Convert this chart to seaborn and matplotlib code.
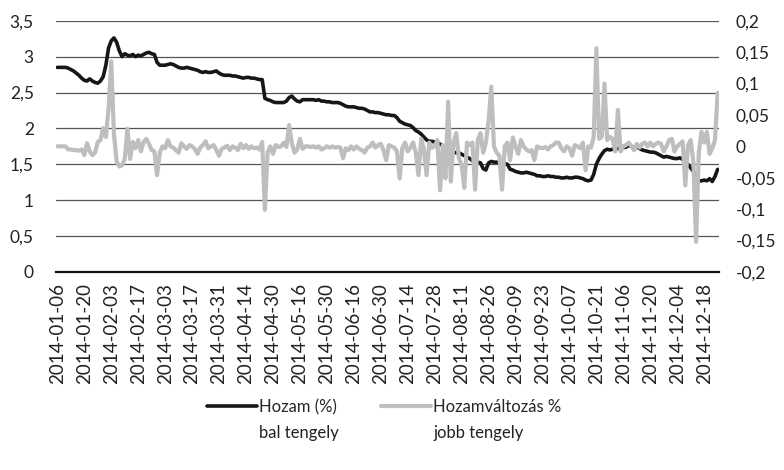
import numpy as np
import pandas as pd
import matplotlib
matplotlib.use("Agg")
import matplotlib.pyplot as plt
from matplotlib.lines import Line2D
import seaborn as sns

# napi hozam (%), bal tengely
hozam = [
    2.85, 2.85, 2.85, 2.85, 2.84, 2.82, 2.80, 2.77, 2.74, 2.70,
    2.67, 2.66, 2.69, 2.66, 2.64, 2.63, 2.66, 2.72, 2.88, 3.12,
    3.22, 3.26, 3.20, 3.08, 3.00, 3.04, 3.02, 3.01, 3.03, 3.00,
    3.02, 3.01, 3.03, 3.05, 3.06, 3.04, 3.03, 2.92, 2.88, 2.88,
    2.88, 2.89, 2.90, 2.89, 2.87, 2.85, 2.84, 2.84, 2.85, 2.84,
    2.83, 2.82, 2.81, 2.79, 2.78, 2.79, 2.78, 2.78, 2.79, 2.80,
    2.77, 2.75, 2.74, 2.74, 2.74, 2.73, 2.73, 2.72, 2.71, 2.70,
    2.71, 2.71, 2.70, 2.70, 2.69, 2.68, 2.68, 2.42, 2.40, 2.39,
    2.37, 2.36, 2.36, 2.36, 2.36, 2.38, 2.43, 2.45, 2.41, 2.38,
    2.37, 2.40, 2.40, 2.40, 2.40, 2.40, 2.39, 2.40, 2.38, 2.38,
    2.37, 2.37, 2.36, 2.36, 2.36, 2.35, 2.33, 2.31, 2.30, 2.30,
    2.30, 2.29, 2.28, 2.28, 2.27, 2.25, 2.23, 2.23, 2.22, 2.22,
    2.21, 2.20, 2.19, 2.19, 2.18, 2.18, 2.15, 2.10, 2.08, 2.06,
    2.05, 2.04, 2.01, 1.97, 1.95, 1.92, 1.88, 1.84, 1.82, 1.82,
    1.81, 1.80, 1.78, 1.76, 1.74, 1.72, 1.70, 1.67, 1.66, 1.66,
    1.64, 1.62, 1.60, 1.58, 1.55, 1.53, 1.53, 1.52, 1.44, 1.42,
    1.52, 1.54, 1.53, 1.53, 1.52, 1.52, 1.51, 1.50, 1.43, 1.42,
    1.40, 1.39, 1.38, 1.38, 1.39, 1.38, 1.37, 1.36, 1.34, 1.34,
    1.33, 1.33, 1.34, 1.33, 1.33, 1.32, 1.32, 1.31, 1.31, 1.32,
    1.31, 1.31, 1.32, 1.32, 1.31, 1.30, 1.28, 1.27, 1.28, 1.36,
    1.50, 1.58, 1.64, 1.69, 1.71, 1.70, 1.71, 1.71, 1.72, 1.72,
    1.73, 1.74, 1.76, 1.75, 1.73, 1.74, 1.72, 1.70, 1.69, 1.68,
    1.67, 1.67, 1.66, 1.64, 1.62, 1.60, 1.61, 1.60, 1.59, 1.58,
    1.58, 1.59, 1.57, 1.52, 1.50, 1.45, 1.40, 1.30, 1.27, 1.27,
    1.28, 1.27, 1.30, 1.26, 1.33, 1.43,
]

# hozamvaltozas, jobb tengely
valtozas = [
    0.000, 0.000, 0.000, 0.000, -0.005, -0.005, -0.006, -0.006, -0.007, -0.005,
    -0.014, 0.005, -0.008, -0.014, -0.010, 0.007, 0.010, 0.029, 0.015, 0.060,
    0.135, 0.020, -0.024, -0.032, -0.030, -0.020, 0.028, -0.020, 0.007, -0.003,
    0.010, -0.008, 0.007, 0.012, 0.004, -0.006, -0.008, -0.046, -0.010, 0.000,
    -0.003, 0.010, 0.000, -0.002, -0.006, -0.010, 0.005, 0.000, -0.004, 0.002,
    0.000, -0.004, -0.012, -0.002, 0.002, 0.008, -0.003, 0.000, 0.002, -0.006,
    -0.015, -0.004, -0.002, 0.001, -0.006, 0.000, -0.002, -0.006, 0.004, -0.003,
    0.002, -0.004, 0.000, -0.003, -0.002, -0.005, 0.007, -0.101, -0.010, 0.000,
    -0.012, 0.002, -0.001, 0.000, 0.006, -0.001, 0.034, 0.005, -0.010, -0.005,
    0.012, -0.004, 0.000, 0.000, -0.001, 0.000, -0.002, 0.000, -0.005, -0.003,
    0.000, -0.002, 0.000, -0.002, -0.001, -0.002, -0.019, -0.003, -0.006, 0.000,
    -0.005, 0.000, -0.004, -0.006, -0.010, -0.002, 0.000, 0.006, -0.002, 0.002,
    0.004, -0.006, -0.022, 0.002, 0.000, -0.002, -0.008, -0.051, -0.003, 0.006,
    -0.008, -0.002, 0.006, -0.010, -0.046, 0.012, -0.004, -0.046, 0.006, -0.002,
    0.000, 0.010, -0.070, 0.002, -0.051, 0.071, -0.056, 0.006, 0.021, -0.019,
    -0.030, -0.066, 0.006, 0.002, 0.006, -0.069, 0.010, 0.021, -0.010, 0.006,
    0.040, 0.095, 0.000, -0.010, -0.015, -0.069, 0.000, 0.006, -0.022, 0.014,
    0.000, -0.012, 0.010, 0.000, -0.005, -0.008, -0.006, -0.022, 0.000, -0.002,
    -0.003, -0.001, -0.005, 0.000, 0.002, 0.006, 0.006, -0.003, -0.008, 0.000,
    -0.003, -0.015, 0.002, 0.000, -0.003, 0.006, -0.038, 0.000, -0.002, 0.015,
    0.156, 0.012, 0.015, 0.100, 0.010, 0.015, 0.012, -0.008, 0.058, -0.008,
    0.000, 0.002, 0.006, 0.000, -0.006, 0.004, -0.002, 0.004, 0.006, 0.000,
    0.006, 0.000, 0.004, 0.006, 0.004, -0.008, 0.000, 0.010, 0.012, -0.008,
    0.000, 0.004, 0.008, -0.062, 0.002, 0.010, -0.025, -0.152, -0.010, 0.023,
    0.006, 0.023, -0.012, -0.003, 0.010, 0.085,
]

datum_cimkek = [
    "2014-01-06", "2014-01-20", "2014-02-03", "2014-02-17", "2014-03-03",
    "2014-03-17", "2014-03-31", "2014-04-14", "2014-04-30", "2014-05-16",
    "2014-05-30", "2014-06-16", "2014-06-30", "2014-07-14", "2014-07-28",
    "2014-08-11", "2014-08-26", "2014-09-09", "2014-09-23", "2014-10-07",
    "2014-10-21", "2014-11-06", "2014-11-20", "2014-12-04", "2014-12-18",
]
bal_ticks = [0, 0.5, 1, 1.5, 2, 2.5, 3, 3.5]
bal_cimkek = ["0", "0,5", "1", "1,5", "2", "2,5", "3", "3,5"]
jobb_ticks = [-0.2, -0.15, -0.1, -0.05, 0, 0.05, 0.1, 0.15, 0.2]
jobb_cimkek = ["-0,2", "-0,15", "-0,1", "-0,05", "0", "0,05", "0,1", "0,15", "0,2"]

sns.set_style("white")
plt.rcParams['font.family'] = ['Lato', 'DejaVu Sans']
plt.rcParams['font.size'] = 12

df = pd.DataFrame({"nap": np.arange(len(hozam)), "hozam": hozam, "valtozas": valtozas})

fig = plt.figure(figsize=(7.84, 4.70), dpi=100)
ax = fig.add_axes([56/784, 1 - 272/470, (719 - 56)/784, (272 - 20.7)/470])
ax2 = ax.twinx()

sns.lineplot(data=df, x="nap", y="hozam", ax=ax, color="#161616", lw=2.6, legend=False)
sns.lineplot(data=df, x="nap", y="valtozas", ax=ax2, color="#bebebe", lw=3.0, legend=False)

ax.set_xlim(-0.5, len(hozam) - 0.5)
ax.set_ylim(0, 3.5)
ax2.set_ylim(-0.2, 0.2)
ax.set_xticks(np.arange(0, len(hozam), 10)[:len(datum_cimkek)])
ax.set_xticklabels(datum_cimkek, rotation=90)
ax.set_yticks(bal_ticks)
ax.set_yticklabels(bal_cimkek)
ax2.set_yticks(jobb_ticks)
ax2.set_yticklabels(jobb_cimkek)
ax.set_xlabel("")
ax.set_ylabel("")
ax2.set_ylabel("")

ax.yaxis.grid(True, color="#555555", lw=0.9)
ax.xaxis.grid(False)
for s in ["left", "right", "top"]:
    ax.spines[s].set_visible(False)
for s in ax2.spines.values():
    s.set_visible(False)
ax.spines["bottom"].set_color("#111111")
ax.spines["bottom"].set_linewidth(1.6)

ax.tick_params(axis="y", length=0, pad=16, labelsize=12.5, colors="#222222")
ax.tick_params(axis="x", length=0, pad=8, labelsize=13.5, colors="#222222")
ax2.tick_params(axis="y", length=0, pad=12, labelsize=12.5, colors="#222222")

handles = [Line2D([], [], color="#161616", lw=2.6), Line2D([], [], color="#bebebe", lw=3.0)]
leg = fig.legend(handles, ["Hozam (%)", "Hozamváltozás %"], loc="center",
                 bbox_to_anchor=(0.49, 0.134), ncol=2, frameon=False,
                 handlelength=3.0, handletextpad=0.1, columnspacing=2.7, fontsize=12)

fig.canvas.draw()
inv = fig.transFigure.inverted()
for t, s in zip(leg.get_texts(), ["bal tengely", "jobb tengely"]):
    bb = t.get_window_extent()
    x0, y0 = inv.transform((bb.x0, bb.y0))
    fig.text(x0, y0 - 26/470, s, ha="left", va="bottom", fontsize=12, color="#222222")

fig.savefig("out.png", dpi=100)
